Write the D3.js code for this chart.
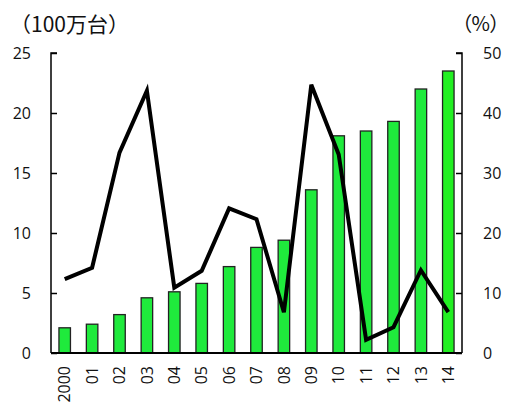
<!DOCTYPE html>
<html>
<head>
<meta charset="utf-8">
<script src="https://cdn.jsdelivr.net/npm/d3@7"></script>
<style>
  html, body { margin: 0; padding: 0; background: #fff; }
  svg { display: block; }
  text { font-family: "Open Sans", "Noto Sans", "Noto Sans CJK JP", sans-serif; fill: #111; }
  text.caption { font-family: "Noto Sans CJK JP", sans-serif; }
  text.tight { font-feature-settings: "palt"; }
</style>
</head>
<body>
<svg id="chart" width="507" height="407"></svg>
<script>
// Production (millions of units, left axis) and growth rate (%, right axis)
const years = ["2000", "01", "02", "03", "04", "05", "06", "07", "08", "09", "10", "11", "12", "13", "14"];
const units = [2.1, 2.4, 3.2, 4.6, 5.1, 5.8, 7.2, 8.8, 9.4, 13.6, 18.1, 18.5, 19.3, 22.0, 23.5];
const growth = [12.3, 14.2, 33.4, 43.7, 10.9, 13.7, 24.1, 22.3, 6.8, 44.7, 33.1, 2.2, 4.3, 13.8, 6.8];
const leftTicks = [0, 5, 10, 15, 20, 25];
const rightTicks = [0, 10, 20, 30, 40, 50];

const svg = d3.select("#chart");
const plot = { left: 51, right: 462, top: 53, bottom: 353 };

const x = d3.scaleBand().domain(years).range([plot.left, plot.right]).paddingInner(0.58).paddingOuter(0.29);
const yL = d3.scaleLinear().domain([0, 25]).range([plot.bottom, plot.top]);
const yR = d3.scaleLinear().domain([0, 50]).range([plot.bottom, plot.top]);

// Bars
svg.append("g").selectAll("rect").data(units).join("rect")
  .attr("x", (d, i) => x(years[i]))
  .attr("y", d => yL(d))
  .attr("width", x.bandwidth())
  .attr("height", d => yL(0) - yL(d))
  .attr("fill", (d, i) => i === units.length - 1 ? "#22f022" : "#1fea3c")
  .attr("stroke", "#222")
  .attr("stroke-width", 1.3);

// Growth line
const line = d3.line()
  .x((d, i) => x(years[i]) + x.bandwidth() / 2)
  .y(d => yR(d));
svg.append("path").datum(growth)
  .attr("d", line)
  .attr("fill", "none")
  .attr("stroke", "#000")
  .attr("stroke-width", 4)
  .attr("stroke-linejoin", "miter");

// Left axis
const axL = svg.append("g").attr("transform", `translate(${plot.left},0)`)
  .call(d3.axisRight(yL).tickValues(leftTicks).tickSize(6).tickFormat(""));
axL.selectAll("line, path").attr("stroke", "#000").attr("stroke-width", 1.5);
axL.select(".domain").attr("d", `M6,${plot.top}H0V${plot.bottom}`);
svg.append("g").selectAll("text").data(leftTicks).join("text")
  .attr("x", 31).attr("y", d => yL(d)).attr("dy", "0.36em")
  .attr("text-anchor", "end").attr("font-size", 16).text(d => d);

// Right axis
const axR = svg.append("g").attr("transform", `translate(${plot.right},0)`)
  .call(d3.axisLeft(yR).tickValues(rightTicks).tickSize(6).tickFormat(""));
axR.selectAll("line, path").attr("stroke", "#000").attr("stroke-width", 1.5);
axR.select(".domain").attr("d", `M-6,${plot.top}H0V${plot.bottom}`);
svg.append("g").selectAll("text").data(rightTicks).join("text")
  .attr("x", 483).attr("y", d => yR(d)).attr("dy", "0.36em")
  .attr("text-anchor", "start").attr("font-size", 16).text(d => d);

// Baseline
svg.append("line")
  .attr("x1", plot.left).attr("x2", plot.right)
  .attr("y1", plot.bottom).attr("y2", plot.bottom)
  .attr("stroke", "#000").attr("stroke-width", 2);

// Category labels, rotated
svg.append("g").selectAll("text").data(years).join("text")
  .attr("transform", d => `translate(${x(d) + x.bandwidth() / 2},366) rotate(-90)`)
  .attr("dy", "0.36em")
  .attr("text-anchor", "end").attr("font-size", 16).text(d => d);

// Unit captions
svg.append("text").attr("class", "caption").attr("x", 10).attr("y", 32).attr("font-size", 21).text("（100万台）");
svg.append("text").attr("class", "caption tight").attr("x", 500).attr("y", 31)
  .attr("text-anchor", "end").attr("font-size", 20).text("（%）");
</script>
</body>
</html>
